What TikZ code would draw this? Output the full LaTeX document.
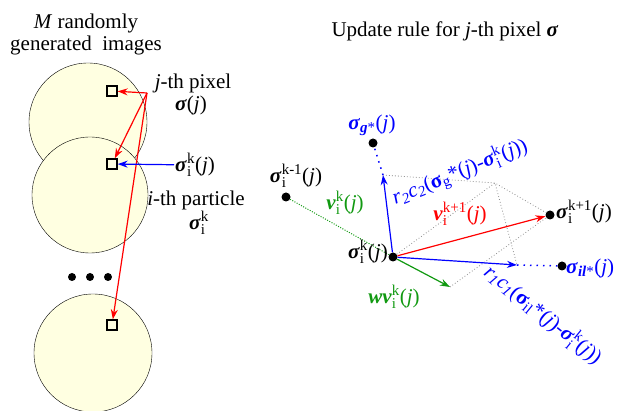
\documentclass[tikz,border=0pt]{standalone}
\usepackage{amsmath}
\usepackage{fontspec}
\setmainfont{Liberation Serif}
\usetikzlibrary{arrows.meta}
\definecolor{imgfill}{HTML}{FFFFE1}
\definecolor{pgreen}{HTML}{119911}
\newcommand\bsig{\textbf{\textit{σ}}}
\newcommand\bvee{\textbf{\textit{v}}}
\newcommand\jj{(\textit{j})}
\newcommand\scr[1]{\text{\fontsize{15}{15}\selectfont #1}}
\newcommand\supsub[2]{$^{\scr{#1}}_{\scr{#2}}$}
\newcommand\sub[1]{$_{\scr{#1}}$}
\begin{document}
\begin{tikzpicture}[x=1pt,y=-1pt, every node/.style={font=\fontsize{21}{22}\selectfont,inner sep=1pt},
  image/.style={draw,thin,fill=imgfill},
  pix/.style={draw,line width=1.3pt,fill=imgfill,minimum size=10pt,inner sep=0pt},
  pt/.style={circle,fill=black,minimum size=9pt,inner sep=0pt},
  arr/.style={-{Stealth[length=10pt,width=7pt]},line width=1.2pt},
  guide/.style={gray!90,line width=0.8pt,dash pattern=on 0.8pt off 2.2pt}]
\useasboundingbox (0,0) rectangle (627,411);
% left: the images
\node[align=center] (imgttl) at (86,34) {\textit{M} randomly\\generated\ \ images};
\draw[image] (88,122) circle (59pt);
\draw[image] (90,195) circle (58pt);
\draw[image] (93,353) circle (59pt);
\foreach \x in {72,90,108} \fill (\x,277) circle (4pt);
\node[pix] (sq1) at (112,91) {};
\node[pix] (sq2) at (112,164) {};
\node[pix] (sq3) at (112,325) {};
\node (pixlbl) at (193,83) {\textit{j}-th pixel};
\node (pixsig) at (191,105) {\bsig\jj};
\coordinate (fork) at (147,93);
\draw[arr,red] (fork) -- (sq1);
\draw[arr,red] (fork) -- (sq2);
\draw[arr,red] (fork) -- (sq3);
\node[anchor=west] (sigki) at (174,165) {\bsig\supsub{k}{i}\jj};
\draw[arr,blue] (sigki) -- (sq2);
\node (partlbl) at (196,200) {\textit{i}-th particle};
\node (partsig) at (199,223) {\bsig\supsub{k}{i}};
% right: update rule
\node (ttl) at (445,31) {Update rule for \textit{j}-th pixel \bsig};
\node[pt] (cur) at (393,257) {};
\node[pt] (gbest) at (373,143) {};
\node[pt] (prev) at (286,197) {};
\node[pt] (next) at (550,215) {};
\node[pt] (lbest) at (562,266) {};
\coordinate (soc) at (383,175);
\coordinate (cog) at (517,265);
\coordinate (inert) at (450,287);
\coordinate (sum) at (495,183);
\draw[guide] (soc) -- (sum) -- (next);
\draw[guide] (cur) -- (sum) -- (cog);
\draw[guide] (inert) -- (next);
\draw[pgreen,line width=1pt,dash pattern=on 1pt off 1.5pt] (prev) -- (cur);
\draw[blue,line width=1.5pt,dash pattern=on 1.5pt off 5pt] (soc) -- (gbest);
\draw[blue,line width=1.5pt,dash pattern=on 1.5pt off 5pt] (cog) -- (lbest);
\draw[arr,blue] (cur) -- (soc);
\draw[arr,blue] (cur) -- (cog);
\draw[arr,pgreen] (cur) -- (inert);
\draw[arr,red] (cur) -- (next);
\node[blue] (gblbl) at (372,125) {\bsig\sub{\textbf{\textit{g}}*}\jj};
\node (prevlbl) at (296,176) {\bsig\supsub{k-1}{i}\jj};
\node[pgreen] (vlbl) at (345,203) {\bvee\supsub{k}{i}\jj};
\node[anchor=east] (curlbl) at (389,252) {\bsig\supsub{k}{i}\jj};
\node[pgreen] (wvlbl) at (394,297) {\textbf{\textit{wv}}\supsub{k}{i}\jj};
\node[anchor=west] (nextlbl) at (555,212) {\bsig\supsub{k+1}{i}\jj};
\node[blue,anchor=west] (lblbl) at (565,268) {\bsig\sub{\textbf{\textit{il}}*}\jj};
\node[red] (vnlbl) at (460,214) {\bvee\supsub{k+1}{i}\jj};
\node[blue,rotate=22] (soclbl) at (460,172) {\textit{r}\sub{\textit{2}}\textit{c}\sub{\textit{2}}(\textbf{σ}\sub{g}*\jj-\bsig\supsub{k}{i}\jj)};
\node[blue,rotate=-39] (coglbl) at (543,315) {\textit{r}\sub{\textit{1}}\textit{c}\sub{\textit{1}}(\textbf{σ}\sub{il}*\jj-\bsig\supsub{k}{i}\jj)};
\end{tikzpicture}
\end{document}
